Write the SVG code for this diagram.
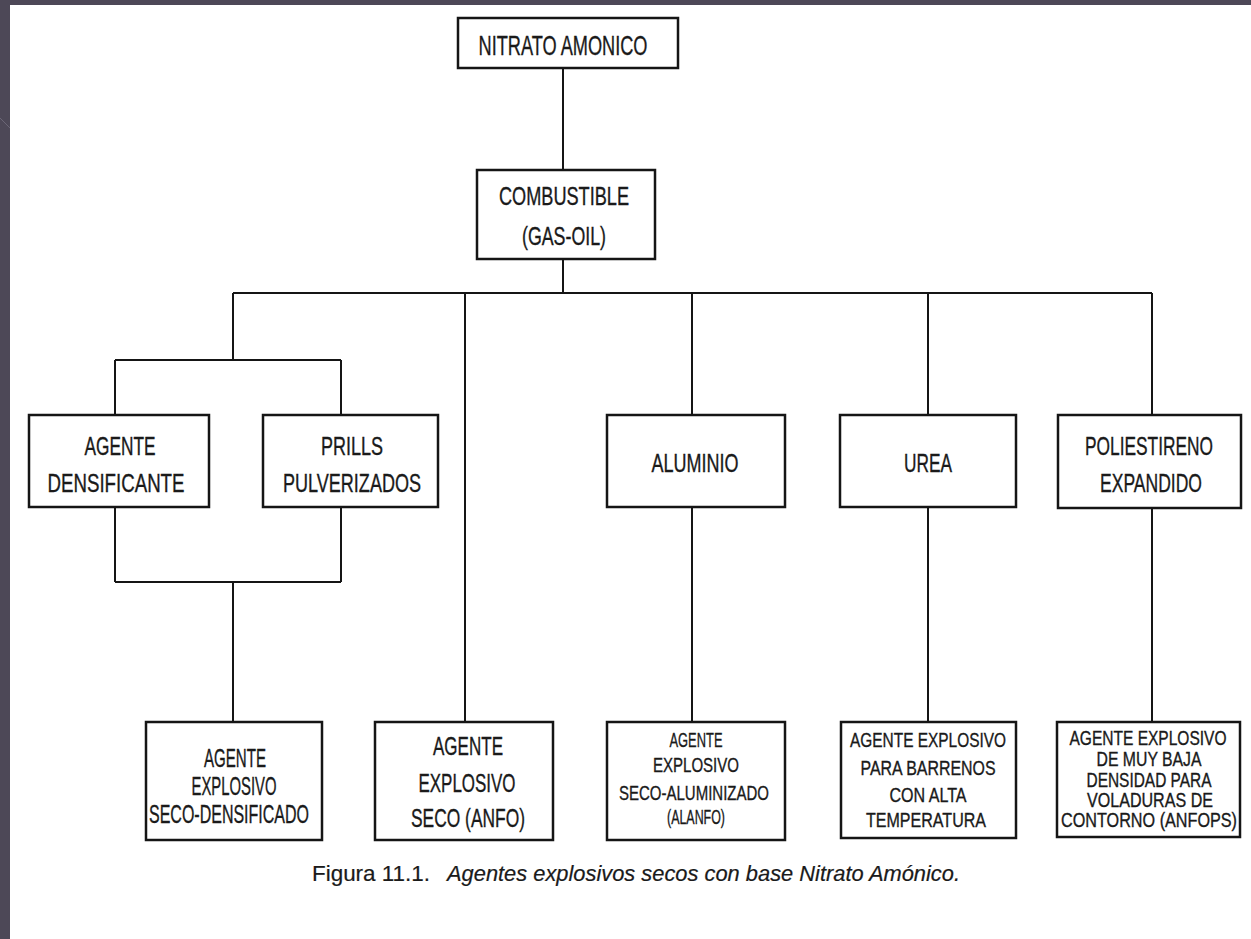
<svg xmlns="http://www.w3.org/2000/svg" width="1251" height="939" viewBox="0 0 1251 939">
<style>
.box{fill:#ffffff;stroke:#151515;stroke-width:2.5}
.conn{stroke:#151515;stroke-width:2;fill:none}
text{font-family:"Liberation Sans",Arial,sans-serif;fill:#1a1a1a;stroke:#1a1a1a;stroke-width:0.35;text-anchor:middle}
.t28{font-size:28px}
.t25{font-size:25px}
.t21{font-size:21px}
.t20{font-size:20px}
.cap{font-size:22px;text-anchor:start;stroke-width:0.2}
</style>
<rect x="0" y="0" width="1251" height="939" fill="#ffffff"/>
<g id="slide-frame">
<rect x="0" y="0" width="1251" height="5" fill="#4d4857"/>
<rect x="0" y="0" width="10" height="939" fill="#4d4857"/>
<line x1="0" y1="118" x2="10" y2="128" stroke="#6b6676" stroke-width="1"/>
</g>
<g id="connectors" class="conn">
<path d="M563 68 V170"/>
<path d="M563 259 V293"/>
<path d="M233 293 H1152"/>
<path d="M233 293 V360"/>
<path d="M115 360 H341"/>
<path d="M115 360 V415 M341 360 V415"/>
<path d="M115 507 V582 M341 507 V582 M115 582 H341 M233 582 V722"/>
<path d="M465 293 V722"/>
<path d="M692 293 V415 M692 507 V722"/>
<path d="M928 293 V415 M928 507 V722"/>
<path d="M1152 293 V415 M1152 508 V722"/>
</g>
<g id="n-nitrato">
<rect class="box" x="458" y="18" width="220" height="50"/>
<text class="t28" x="563" y="55" textLength="169" lengthAdjust="spacingAndGlyphs">NITRATO AMONICO</text>
</g>
<g id="n-combustible">
<rect class="box" x="477" y="170" width="178" height="89"/>
<text class="t25" x="564" y="205" textLength="130" lengthAdjust="spacingAndGlyphs">COMBUSTIBLE</text>
<text class="t25" x="564" y="245" textLength="84" lengthAdjust="spacingAndGlyphs">(GAS-OIL)</text>
</g>
<g id="n-densificante">
<rect class="box" x="29" y="415" width="180" height="92"/>
<text class="t25" x="120" y="455" textLength="71" lengthAdjust="spacingAndGlyphs">AGENTE</text>
<text class="t25" x="116" y="492" textLength="137" lengthAdjust="spacingAndGlyphs">DENSIFICANTE</text>
</g>
<g id="n-prills">
<rect class="box" x="263" y="415" width="175" height="92"/>
<text class="t25" x="352" y="455" textLength="62" lengthAdjust="spacingAndGlyphs">PRILLS</text>
<text class="t25" x="352" y="492" textLength="138" lengthAdjust="spacingAndGlyphs">PULVERIZADOS</text>
</g>
<g id="n-aluminio">
<rect class="box" x="607" y="415" width="178" height="92"/>
<text class="t25" x="695" y="472" textLength="87" lengthAdjust="spacingAndGlyphs">ALUMINIO</text>
</g>
<g id="n-urea">
<rect class="box" x="840" y="415" width="176" height="92"/>
<text class="t25" x="928" y="472" textLength="48" lengthAdjust="spacingAndGlyphs">UREA</text>
</g>
<g id="n-poliestireno">
<rect class="box" x="1058" y="415" width="183" height="93"/>
<text class="t25" x="1149" y="455" textLength="128" lengthAdjust="spacingAndGlyphs">POLIESTIRENO</text>
<text class="t25" x="1151" y="492" textLength="102" lengthAdjust="spacingAndGlyphs">EXPANDIDO</text>
</g>
<g id="n-seco-densificado">
<rect class="box" x="146" y="722" width="176" height="118"/>
<text class="t25" x="235" y="767" textLength="62" lengthAdjust="spacingAndGlyphs">AGENTE</text>
<text class="t25" x="234" y="795" textLength="85" lengthAdjust="spacingAndGlyphs">EXPLOSIVO</text>
<text class="t25" x="229" y="823" textLength="160" lengthAdjust="spacingAndGlyphs">SECO-DENSIFICADO</text>
</g>
<g id="n-anfo">
<rect class="box" x="375" y="722" width="178" height="118"/>
<text class="t25" x="468" y="755" textLength="70" lengthAdjust="spacingAndGlyphs">AGENTE</text>
<text class="t25" x="467" y="792" textLength="97" lengthAdjust="spacingAndGlyphs">EXPLOSIVO</text>
<text class="t25" x="468" y="827" textLength="114" lengthAdjust="spacingAndGlyphs">SECO (ANFO)</text>
</g>
<g id="n-alanfo">
<rect class="box" x="607" y="722" width="178" height="118"/>
<text class="t21" x="696" y="747" textLength="53" lengthAdjust="spacingAndGlyphs">AGENTE</text>
<text class="t21" x="696" y="772" textLength="86" lengthAdjust="spacingAndGlyphs">EXPLOSIVO</text>
<text class="t21" x="694" y="800" textLength="150" lengthAdjust="spacingAndGlyphs">SECO-ALUMINIZADO</text>
<text class="t21" x="696" y="824" textLength="58" lengthAdjust="spacingAndGlyphs">(ALANFO)</text>
</g>
<g id="n-alta-temperatura">
<rect class="box" x="841" y="722" width="175" height="116"/>
<text class="t21" x="928" y="747" textLength="156" lengthAdjust="spacingAndGlyphs">AGENTE EXPLOSIVO</text>
<text class="t21" x="928" y="775" textLength="135" lengthAdjust="spacingAndGlyphs">PARA BARRENOS</text>
<text class="t21" x="928" y="802" textLength="77" lengthAdjust="spacingAndGlyphs">CON ALTA</text>
<text class="t21" x="926" y="827" textLength="120" lengthAdjust="spacingAndGlyphs">TEMPERATURA</text>
</g>
<g id="n-anfops">
<rect class="box" x="1057" y="722" width="183" height="115"/>
<text class="t20" x="1148" y="745" textLength="157" lengthAdjust="spacingAndGlyphs">AGENTE EXPLOSIVO</text>
<text class="t20" x="1149" y="766" textLength="105" lengthAdjust="spacingAndGlyphs">DE MUY BAJA</text>
<text class="t20" x="1149" y="787" textLength="125" lengthAdjust="spacingAndGlyphs">DENSIDAD PARA</text>
<text class="t20" x="1150" y="807" textLength="126" lengthAdjust="spacingAndGlyphs">VOLADURAS DE</text>
<text class="t20" x="1149" y="827" textLength="176" lengthAdjust="spacingAndGlyphs">CONTORNO (ANFOPS)</text>
</g>
<g id="caption">
<text class="cap" x="312" y="881" textLength="118" lengthAdjust="spacingAndGlyphs">Figura 11.1.</text>
<text class="cap" x="447" y="881" font-style="italic" textLength="513" lengthAdjust="spacingAndGlyphs">Agentes explosivos secos con base Nitrato Amónico.</text>
</g>
</svg>
